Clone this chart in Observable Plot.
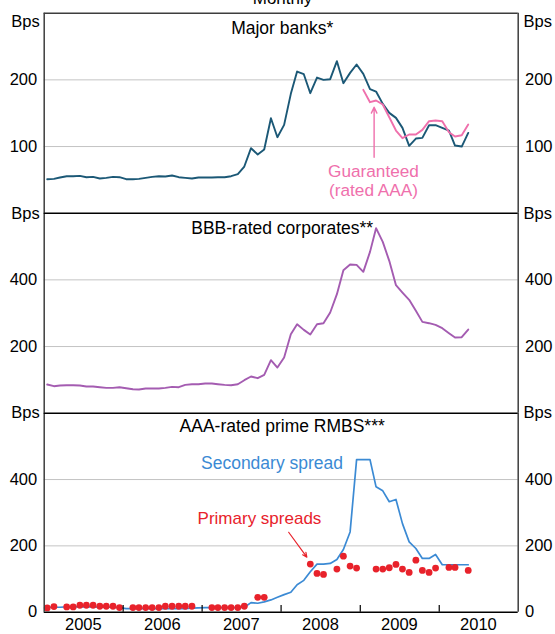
<!DOCTYPE html>
<html>
<head>
<meta charset="utf-8">
<script src="https://cdn.jsdelivr.net/npm/d3@7"></script>
<script src="https://cdn.jsdelivr.net/npm/@observablehq/plot@0.6"></script>
<style>
  body { margin: 0; background: #fff; }
  #chart { position: relative; width: 555px; height: 634px; overflow: hidden; }
  #chart svg { position: absolute; left: 0; top: 0; }
</style>
</head>
<body>
<div id="chart"></div>
<script>
// ---- Data (monthly, Jan 2005 = month 0) ----
const startYear = 2005;
const yearLabels = ["2005", "2006", "2007", "2008", "2009", "2010"];

const majorBanks = [51, 51.5, 53.5, 55.5, 55.5, 56, 54, 54.5, 52, 53, 54.5, 54,
  51, 51, 51.5, 53, 54.5, 55.5, 55, 56.5, 54, 53, 52, 53.5,
  53.5, 53.5, 54, 54, 55.5, 58.5, 70, 97.5, 88, 95.5, 142.5, 114,
  132.5, 179, 212.5, 208.5, 180, 203.5, 200, 201, 228, 195, 210.5, 223,
  209, 186, 182.5, 164, 150.5, 143, 128, 101, 112, 113, 132, 132,
  128, 124, 101.5, 100, 120.5];

const guaranteedStart = 48; // Jan 2009
const guaranteed = [185, 166.5, 169, 163, 144, 124, 112.5, 118, 118, 125, 138, 139,
  138, 121.5, 115, 117, 133];

const bbbCorporates = [86, 81, 83, 84, 84, 83, 80, 80, 78, 76, 76, 78,
  75, 72, 71, 74, 74, 74, 76, 79, 78, 85, 87, 87,
  89, 89, 87, 85, 84, 87, 99, 110, 105, 115, 159, 137,
  167, 237, 267, 250, 236, 267, 270, 302, 357, 429, 446, 445,
  424, 484, 555, 514, 457, 384, 362, 340, 307, 274, 270, 265,
  255, 240, 227, 228, 251];

const secondarySpread = [15, 15, 15, 16, 16, 16, 16, 16, 15, 15, 15, 14,
  11, 11, 11, 11, 11, 11, 11, 11, 11, 11, 12, 13,
  14, 14, 14, 14, 14, 14, 15, 29, 27, 31, 37, 45,
  53, 60, 83, 96, 122, 145, 145, 147, 159, 189, 242, 460,
  460, 460, 378, 366, 333, 340, 267, 212, 192, 162, 162, 174,
  143, 143, 143, 143, 143];

const primaryMonths = [0, 1, 3, 4, 5, 6, 7, 8, 9, 10, 11,
  13, 14, 15, 16, 17, 18, 19, 20, 21, 22,
  25, 26, 27, 28, 29, 30, 32, 33,
  40, 41, 42, 44, 45, 46, 47,
  50, 51, 52, 53, 54, 55, 56, 57, 58, 59, 61, 62, 64];
const primarySpreads = [13, 17, 16, 16, 21, 21, 21, 18, 18, 18, 14,
  14, 14, 14, 14, 14, 18, 18, 18, 18, 18,
  14, 14, 14, 14, 14, 18, 45, 45,
  145, 117, 114, 130, 169, 139, 133,
  130, 130, 134, 144, 130, 120, 157, 126, 120, 133, 135, 135, 126];

// ---- Helpers ----
const month = i => new Date(Date.UTC(startYear, i, 15));
const X0 = new Date(Date.UTC(2005, 0, 1));
const X1 = new Date(Date.UTC(2011, 0, 1));
const yearStarts = d3.range(1, yearLabels.length).map(k => new Date(Date.UTC(startYear + k, 0, 1)));
const yearMids = yearLabels.map(y => new Date(Date.UTC(+y, 6, 1)));

const FONT = "'Liberation Sans', Arial, Helvetica, sans-serif";
const C = {
  navy: "#1b5876", pink: "#ef70ac", purple: "#a45cb1",
  blue: "#3b8ad4", red: "#e8222b", grid: "#c4c4c4",
  axisGray: "#3d3d3d", black: "#000"
};
const W = 555, H = 634, ML = 43.7, MR = 37.3;

function panel(o) {
  return Plot.plot({
    width: W, height: H,
    marginLeft: ML, marginRight: MR,
    marginTop: o.top, marginBottom: H - o.bottom,
    x: {type: "utc", domain: [X0, X1], axis: null, label: null},
    y: {domain: o.domain, label: null},
    style: {fontFamily: FONT, fontSize: "16.5px", background: "transparent", color: "#000", overflow: "hidden"},
    marks: [
      Plot.gridY(o.grid, {stroke: C.grid, strokeOpacity: 1, strokeWidth: 1}),
      ...o.marks,
      Plot.ruleX([X0, X1], {stroke: C.axisGray, strokeWidth: 1.5}),
      Plot.ruleY([o.domain[1]], {stroke: o.topColor, strokeWidth: 1.4}),
      Plot.axisY(o.ticks, {anchor: "left", tickSize: 0, tickPadding: 7, fontSize: 16.5, label: null}),
      Plot.axisY(o.ticks, {anchor: "right", tickSize: 0, tickPadding: 6.8, fontSize: 16.5, label: null}),
      Plot.text(["Bps"], {text: d => d, frameAnchor: "top-left", textAnchor: "end", lineAnchor: "bottom", dx: -4.4, dy: o.bpsDy, fontSize: 16.5}),
      Plot.text(["Bps"], {text: d => d, frameAnchor: "top-right", textAnchor: "start", lineAnchor: "bottom", dx: 5.4, dy: o.bpsDy, fontSize: 16.5}),
      Plot.text([o.title], {text: d => d, frameAnchor: "top", lineAnchor: "bottom", dx: 1, dy: o.titleDy, fontSize: 17.5})
    ]
  });
}

const chart = document.getElementById("chart");

// Panel 1: Major banks
chart.append(panel({
  top: 12.7, bottom: 212.7, domain: [0, 300], ticks: [100, 200], grid: [100, 200],
  topColor: C.axisGray, bpsDy: 13.3, titleDy: 20.6, title: "Major banks*",
  marks: [
    Plot.text(["Monthly"], {text: d => d, frameAnchor: "top", lineAnchor: "bottom", dx: 1.3, dy: -9.2, fontSize: 17}),
    Plot.line(majorBanks, {x: (d, i) => month(i), y: d => d, stroke: C.navy, strokeWidth: 1.9}),
    Plot.line(guaranteed, {x: (d, i) => month(guaranteedStart + i), y: d => d, stroke: C.pink, strokeWidth: 1.9}),
    Plot.arrow([0], {x1: new Date(Date.UTC(2009, 2, 6)), y1: 84, x2: new Date(Date.UTC(2009, 2, 6)), y2: 159,
      stroke: C.pink, strokeWidth: 1.4, headLength: 7, headAngle: 50}),
    Plot.text(["Guaranteed"], {text: d => d, x: new Date(Date.UTC(2009, 2, 3)), y: 55, lineAnchor: "bottom", fill: C.pink, fontSize: 17.2}),
    Plot.text(["(rated AAA)"], {text: d => d, x: new Date(Date.UTC(2009, 2, 3)), y: 26.5, lineAnchor: "bottom", fill: C.pink, fontSize: 17.2})
  ]
}));

// Panel 2: BBB-rated corporates
chart.append(panel({
  top: 212.7, bottom: 412.7, domain: [0, 600], ticks: [200, 400], grid: [200, 400],
  topColor: C.black, bpsDy: 6.0, titleDy: 20.6, title: "BBB-rated corporates**",
  marks: [
    Plot.line(bbbCorporates, {x: (d, i) => month(i), y: d => d, stroke: C.purple, strokeWidth: 1.9})
  ]
}));

// Panel 3: AAA-rated prime RMBS
chart.append(panel({
  top: 412.7, bottom: 611.7, domain: [0, 600], ticks: [0, 200, 400], grid: [200, 400],
  topColor: C.black, bpsDy: 4.6, titleDy: 18.3, title: "AAA-rated prime RMBS***",
  marks: [
    Plot.line(secondarySpread, {x: (d, i) => month(i), y: d => d, stroke: C.blue, strokeWidth: 1.7}),
    Plot.dot(primarySpreads, {x: (d, i) => month(primaryMonths[i]), y: d => d, r: 3.4, fill: C.red, stroke: "none"}),
    Plot.text(["Secondary spread"], {text: d => d, x: new Date(Date.UTC(2007, 10, 20)), y: 432, lineAnchor: "bottom", fill: C.blue, fontSize: 17.5}),
    Plot.text(["Primary spreads"], {text: d => d, x: new Date(Date.UTC(2007, 8, 23)), y: 266, lineAnchor: "bottom", fill: C.red, fontSize: 17}),
    Plot.arrow([0], {x1: new Date(Date.UTC(2008, 1, 5)), y1: 241, x2: new Date(Date.UTC(2008, 3, 29)), y2: 166,
      stroke: C.red, strokeWidth: 1.2, headLength: 6, headAngle: 50}),
    Plot.ruleY([0], {stroke: C.black, strokeWidth: 1.5}),
    Plot.ruleX(yearStarts, {y1: 0, y2: 20, stroke: C.black, strokeWidth: 1.2}),
    Plot.axisX(yearMids, {anchor: "bottom", tickSize: 0, tickPadding: 6.3, tickFormat: d => String(d.getUTCFullYear()), fontSize: 16.5, label: null})
  ]
}));
</script>
</body>
</html>
